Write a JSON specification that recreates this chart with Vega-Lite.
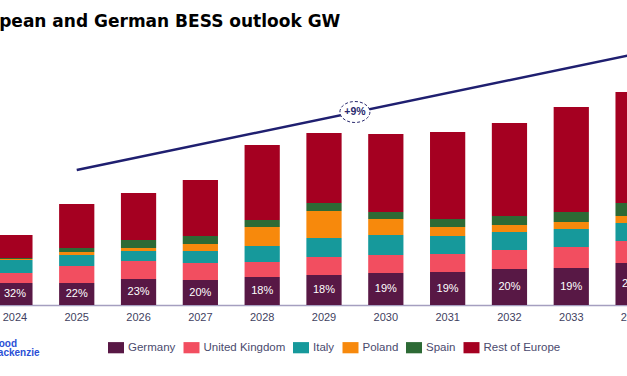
{
  "$schema": "https://vega.github.io/schema/vega-lite/v6.json",
  "width": 680,
  "height": 265,
  "autosize": {"type": "none"},
  "padding": {"left": -16, "top": 40, "right": -37, "bottom": 71},
  "background": "white",
  "title": {
    "text": "European and German BESS outlook GW",
    "font": "DejaVu Sans",
    "fontWeight": "bold",
    "fontSize": 17,
    "color": "#000000",
    "anchor": "start",
    "frame": "group",
    "baseline": "alphabetic",
    "offset": -4,
    "dx": -28.6
  },
  "datasets": {
    "regions": [
      {"region": "Germany", "rank": 1},
      {"region": "United Kingdom", "rank": 2},
      {"region": "Italy", "rank": 3},
      {"region": "Poland", "rank": 4},
      {"region": "Spain", "rank": 5},
      {"region": "Rest of Europe", "rank": 6}
    ],
    "bess": [
      {"year": "2024", "region": "Germany", "gw": 2.2, "label": "32%"},
      {"year": "2024", "region": "United Kingdom", "gw": 1.0},
      {"year": "2024", "region": "Italy", "gw": 1.3},
      {"year": "2024", "region": "Poland", "gw": 0.1},
      {"year": "2024", "region": "Spain", "gw": 0.1},
      {"year": "2024", "region": "Rest of Europe", "gw": 2.3},
      {"year": "2025", "region": "Germany", "gw": 2.2, "label": "22%"},
      {"year": "2025", "region": "United Kingdom", "gw": 1.7},
      {"year": "2025", "region": "Italy", "gw": 1.1},
      {"year": "2025", "region": "Poland", "gw": 0.3},
      {"year": "2025", "region": "Spain", "gw": 0.4},
      {"year": "2025", "region": "Rest of Europe", "gw": 4.4},
      {"year": "2026", "region": "Germany", "gw": 2.6, "label": "23%"},
      {"year": "2026", "region": "United Kingdom", "gw": 1.8},
      {"year": "2026", "region": "Italy", "gw": 1.0},
      {"year": "2026", "region": "Poland", "gw": 0.3},
      {"year": "2026", "region": "Spain", "gw": 0.8},
      {"year": "2026", "region": "Rest of Europe", "gw": 4.7},
      {"year": "2027", "region": "Germany", "gw": 2.5, "label": "20%"},
      {"year": "2027", "region": "United Kingdom", "gw": 1.7},
      {"year": "2027", "region": "Italy", "gw": 1.2},
      {"year": "2027", "region": "Poland", "gw": 0.7},
      {"year": "2027", "region": "Spain", "gw": 0.8},
      {"year": "2027", "region": "Rest of Europe", "gw": 5.6},
      {"year": "2028", "region": "Germany", "gw": 2.8, "label": "18%"},
      {"year": "2028", "region": "United Kingdom", "gw": 1.5},
      {"year": "2028", "region": "Italy", "gw": 1.6},
      {"year": "2028", "region": "Poland", "gw": 1.9},
      {"year": "2028", "region": "Spain", "gw": 0.7},
      {"year": "2028", "region": "Rest of Europe", "gw": 7.5},
      {"year": "2029", "region": "Germany", "gw": 3.0, "label": "18%"},
      {"year": "2029", "region": "United Kingdom", "gw": 1.8},
      {"year": "2029", "region": "Italy", "gw": 1.9},
      {"year": "2029", "region": "Poland", "gw": 2.7},
      {"year": "2029", "region": "Spain", "gw": 0.8},
      {"year": "2029", "region": "Rest of Europe", "gw": 7.0},
      {"year": "2030", "region": "Germany", "gw": 3.2, "label": "19%"},
      {"year": "2030", "region": "United Kingdom", "gw": 1.8},
      {"year": "2030", "region": "Italy", "gw": 2.0},
      {"year": "2030", "region": "Poland", "gw": 1.6},
      {"year": "2030", "region": "Spain", "gw": 0.7},
      {"year": "2030", "region": "Rest of Europe", "gw": 7.8},
      {"year": "2031", "region": "Germany", "gw": 3.3, "label": "19%"},
      {"year": "2031", "region": "United Kingdom", "gw": 1.8},
      {"year": "2031", "region": "Italy", "gw": 1.8},
      {"year": "2031", "region": "Poland", "gw": 0.9},
      {"year": "2031", "region": "Spain", "gw": 0.8},
      {"year": "2031", "region": "Rest of Europe", "gw": 8.7},
      {"year": "2032", "region": "Germany", "gw": 3.6, "label": "20%"},
      {"year": "2032", "region": "United Kingdom", "gw": 1.9},
      {"year": "2032", "region": "Italy", "gw": 1.8},
      {"year": "2032", "region": "Poland", "gw": 0.7},
      {"year": "2032", "region": "Spain", "gw": 0.9},
      {"year": "2032", "region": "Rest of Europe", "gw": 9.3},
      {"year": "2033", "region": "Germany", "gw": 3.7, "label": "19%"},
      {"year": "2033", "region": "United Kingdom", "gw": 2.1},
      {"year": "2033", "region": "Italy", "gw": 1.8},
      {"year": "2033", "region": "Poland", "gw": 0.7},
      {"year": "2033", "region": "Spain", "gw": 1.0},
      {"year": "2033", "region": "Rest of Europe", "gw": 10.5},
      {"year": "2034", "region": "Germany", "gw": 4.2, "label": "20%"},
      {"year": "2034", "region": "United Kingdom", "gw": 2.2},
      {"year": "2034", "region": "Italy", "gw": 1.8},
      {"year": "2034", "region": "Poland", "gw": 0.7},
      {"year": "2034", "region": "Spain", "gw": 1.3},
      {"year": "2034", "region": "Rest of Europe", "gw": 11.1}
    ],
    "trend": [
      {"t": 2025, "v": 13.5},
      {"t": 2034, "v": 25.05}
    ],
    "cagr": [
      {"t": 2029.5, "v": 19.3, "label": "+9%"}
    ]
  },
  "layer": [
    {
      "layer": [
        {
          "data": {"name": "bess"},
          "transform": [
            {"lookup": "region", "from": {"data": {"name": "regions"}, "key": "region", "fields": ["rank"]}}
          ],
          "mark": {"type": "bar", "strokeWidth": 0},
          "encoding": {
            "x": {
              "field": "year",
              "type": "ordinal",
              "scale": {"paddingInner": 0.43, "paddingOuter": 0.215},
              "axis": {
                "title": ["Wood", "Mackenzie"],
                "titleFont": "Liberation Sans",
                "titleFontWeight": "bold",
                "titleFontSize": 10,
                "titleColor": "#2b4fd6",
                "titleAlign": "left",
                "titleAnchor": "start",
                "titleBaseline": "alphabetic",
                "titleX": 5,
                "titleY": 41,
                "titleLineHeight": 9.5,
                "titleAngle": 0,
                "labelAngle": 0,
                "labelFont": "Liberation Sans",
                "labelFontSize": 11,
                "labelColor": "#3f3f5f",
                "labelPadding": 6,
                "ticks": false,
                "domainColor": "#a59fc0",
                "domainWidth": 1.5
              }
            },
            "y": {
              "field": "gw",
              "type": "quantitative",
              "stack": "zero",
              "scale": {"domain": [0, 26.5], "nice": false, "zero": true},
              "axis": null
            },
            "order": {"field": "rank", "type": "quantitative", "sort": "ascending"},
            "color": {
              "field": "region",
              "type": "nominal",
              "sort": ["Germany", "United Kingdom", "Italy", "Poland", "Spain", "Rest of Europe"],
              "scale": {
                "domain": ["Germany", "United Kingdom", "Italy", "Poland", "Spain", "Rest of Europe"],
                "range": ["#581845", "#f24e60", "#16999b", "#f7890c", "#2d6a35", "#a50021"]
              },
              "legend": {
                "orient": "none",
                "legendX": 124,
                "legendY": 299.5,
                "direction": "horizontal",
                "title": null,
                "symbolType": "M-1,-0.7H1V0.7H-1Z",
                "symbolSize": 256,
                "symbolStrokeWidth": 0,
                "labelFont": "Liberation Sans",
                "labelFontSize": 11.5,
                "labelColor": "#4a4a6e",
                "labelOffset": 4,
                "columnPadding": 7.5,
                "padding": 0,
                "labelLimit": 200
              }
            }
          }
        },
        {
          "data": {"name": "bess"},
          "transform": [{"filter": "datum.region === 'Germany'"}],
          "mark": {"type": "text", "font": "Liberation Sans", "fontSize": 11, "color": "#ffffff", "baseline": "middle", "align": "center"},
          "encoding": {
            "x": {"field": "year", "type": "ordinal"},
            "y": {"field": "gw", "type": "quantitative", "stack": "zero", "bandPosition": 0.5},
            "detail": {"field": "region"},
            "text": {"field": "label"}
          }
        }
      ]
    },
    {
      "layer": [
        {
          "data": {"name": "trend"},
          "mark": {"type": "line", "color": "#1f1f70", "strokeWidth": 2.5},
          "encoding": {
            "x": {"field": "t", "type": "quantitative", "scale": {"domain": [2023.5, 2034.5], "nice": false, "zero": false}, "axis": null},
            "y": {"field": "v", "type": "quantitative"}
          }
        },
        {
          "data": {"name": "cagr"},
          "mark": {"type": "point", "shape": "M-1,0A1,0.7,0,1,1,1,0A1,0.7,0,1,1,-1,0Z", "size": 900, "filled": false, "fill": "#ffffff", "fillOpacity": 1, "stroke": "#2a2a6e", "strokeWidth": 1, "strokeDash": [3, 2], "opacity": 1},
          "encoding": {
            "x": {"field": "t", "type": "quantitative"},
            "y": {"field": "v", "type": "quantitative"}
          }
        },
        {
          "data": {"name": "cagr"},
          "mark": {"type": "text", "font": "Liberation Sans", "fontWeight": "bold", "fontSize": 10.5, "color": "#2a2a6e", "baseline": "middle", "align": "center"},
          "encoding": {
            "x": {"field": "t", "type": "quantitative"},
            "y": {"field": "v", "type": "quantitative"},
            "text": {"field": "label"}
          }
        }
      ]
    }
  ],
  "resolve": {"scale": {"x": "independent"}, "axis": {"x": "independent"}},
  "config": {
    "view": {"stroke": null},
    "axis": {"grid": false},
    "font": "Liberation Sans"
  }
}
